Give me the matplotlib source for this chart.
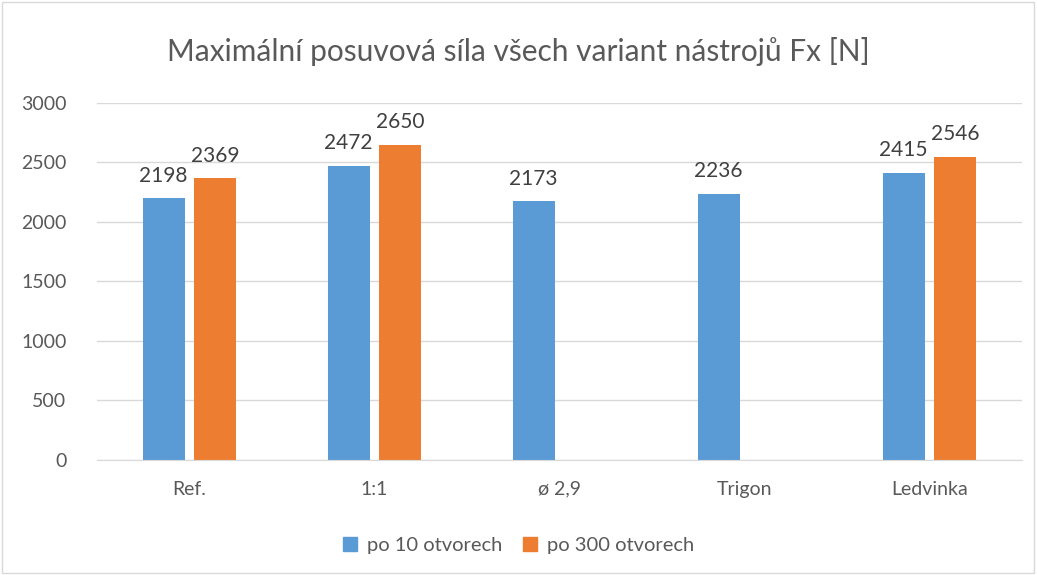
import matplotlib
matplotlib.use("Agg")
import matplotlib.pyplot as plt
import numpy as np
from matplotlib.patches import Rectangle

plt.rcParams['font.family'] = ['Lato', 'DejaVu Sans']

categories = ["Ref.", "1:1", "ø 2,9", "Trigon", "Ledvinka"]
series_names = ["po 10 otvorech", "po 300 otvorech"]
vals_10 = [2198, 2472, 2173, 2236, 2415]
vals_300 = [2369, 2650, None, None, 2546]
colors = ["#5B9BD5", "#ED7D31"]
title = "Maximální posuvová síla všech variant nástrojů Fx [N]"

fig = plt.figure(figsize=(10.37, 5.75), dpi=100)
ax = fig.add_axes([0.0935, 0.2, 0.892, 0.621])

x = np.arange(len(categories))
w = 0.227
off = 0.14
text_c = "#404040"
tick_c = "#595959"

for i, v in enumerate(vals_10):
    ax.bar(x[i] - off, v, w, color=colors[0], zorder=3)
    ax.annotate(str(v), (x[i] - off, v), xytext=(0, 9), textcoords="offset points",
                ha="center", va="bottom", fontsize=15, color=text_c)
for i, v in enumerate(vals_300):
    if v is None:
        continue
    ax.bar(x[i] + off, v, w, color=colors[1], zorder=3)
    ax.annotate(str(v), (x[i] + off, v), xytext=(0, 9), textcoords="offset points",
                ha="center", va="bottom", fontsize=15, color=text_c)

ax.set_xlim(-0.5, len(categories) - 0.5)
ax.set_ylim(0, 3000)
ax.set_yticks(np.arange(0, 3001, 500))
ax.set_xticks(x)
ax.set_xticklabels(categories)
ax.tick_params(axis="both", length=0, labelsize=14, colors=tick_c)
ax.tick_params(axis="x", pad=15)
ax.tick_params(axis="y", pad=22)
ax.yaxis.grid(True, color="#D9D9D9", linewidth=1, zorder=0)
for s in ["top", "right", "left"]:
    ax.spines[s].set_visible(False)
ax.spines["bottom"].set_color("#D9D9D9")
ax.spines["bottom"].set_zorder(4)

fig.text(0.5, 0.91, title, ha="center", va="center", fontsize=21.5, color=tick_c)

handles = [Rectangle((0, 0), 1, 1, color=c) for c in colors]
fig.legend(handles, series_names, loc="center", bbox_to_anchor=(0.5, 0.052), ncol=2,
           frameon=False, fontsize=14.5, handlelength=0.7, handleheight=0.7,
           columnspacing=1.0, handletextpad=0.5, labelcolor=tick_c)

fig.patches.append(Rectangle((0.002, 0.003), 0.995, 0.994, transform=fig.transFigure,
                             fill=False, edgecolor="#D9D9D9", linewidth=1))

fig.savefig("out.png", dpi=100)
